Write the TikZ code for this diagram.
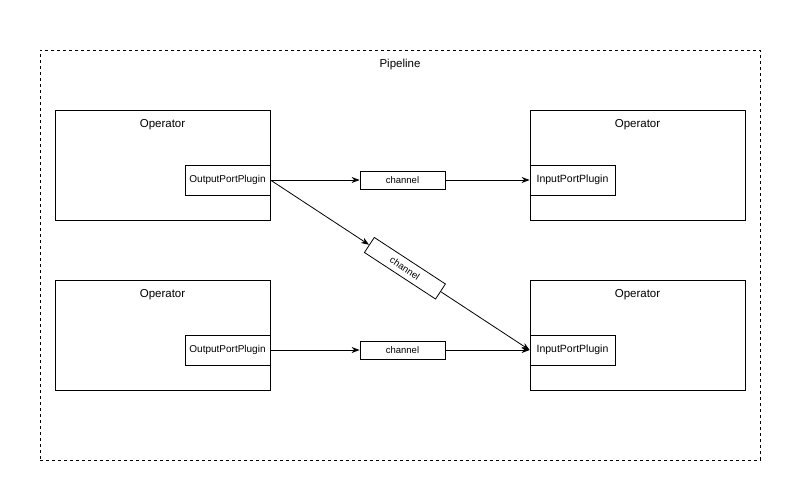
\documentclass[tikz,border=0pt]{standalone}
\usepackage{fontspec}
\setmainfont{Liberation Sans}
\usetikzlibrary{arrows.meta,calc}
\begin{document}
\begin{tikzpicture}[x=1pt,y=-1pt,
  opbox/.style={draw,line width=0.8pt,minimum width=215pt,minimum height=110pt,inner sep=0pt},
  plug/.style={draw,line width=0.8pt,minimum width=85pt,minimum height=30pt,inner sep=0pt,font=\fontsize{10}{11}\selectfont},
  inplug/.style={plug,font=\fontsize{10.5}{11}\selectfont},
  chan/.style={draw,line width=0.8pt,minimum width=85pt,minimum height=18pt,inner sep=0pt,font=\fontsize{9.5}{10}\selectfont},
  arr/.style={line width=0.8pt,-{Stealth[length=8pt,width=6pt]}},
  optitle/.style={font=\fontsize{11.5}{13}\selectfont,anchor=base,inner sep=0pt}]
\useasboundingbox (0,0) rectangle (810,491);
\node[draw,dashed,line width=0.6pt,minimum width=720pt,minimum height=410pt,inner sep=0pt] (pipe) at (400,255) {};
\node[optitle] (pl) at ([yshift=-18pt]pipe.north) {Pipeline};
% operators
\node[opbox] (op1) at (162.5,165) {};
\node[opbox] (op2) at (637.5,165) {};
\node[opbox] (op3) at (162.5,335) {};
\node[opbox] (op4) at (637.5,335) {};
\node[optitle] (t1) at ([yshift=-18pt]op1.north) {Operator};
\node[optitle] (t2) at ([yshift=-18pt]op2.north) {Operator};
\node[optitle] (t3) at ([yshift=-18pt]op3.north) {Operator};
\node[optitle] (t4) at ([yshift=-18pt]op4.north) {Operator};
% plugins
\node[plug] (o1) at (227.5,180) {OutputPortPlugin};
\node[plug] (o2) at (227.5,350) {OutputPortPlugin};
\node[inplug] (i1) at (572.5,180) {InputPortPlugin};
\node[inplug] (i2) at (572.5,350) {InputPortPlugin};
% channels
\node[chan] (c1) at (402.5,180) {channel};
\node[chan] (c3) at (402.5,350) {channel};
\node[chan,rotate=-33.2] (c2) at ($(o1.east)!0.519!(i2.west)$) {channel};
% connectors
\draw[arr] (o1.east) -- (c1.west);
\draw[arr] (c1.east) -- (i1.west);
\draw[arr] (o1.east) -- (c2.west);
\draw[arr] (c2.east) -- (i2.west);
\draw[arr] (o2.east) -- (c3.west);
\draw[arr] (c3.east) -- (i2.west);
\end{tikzpicture}
\end{document}
